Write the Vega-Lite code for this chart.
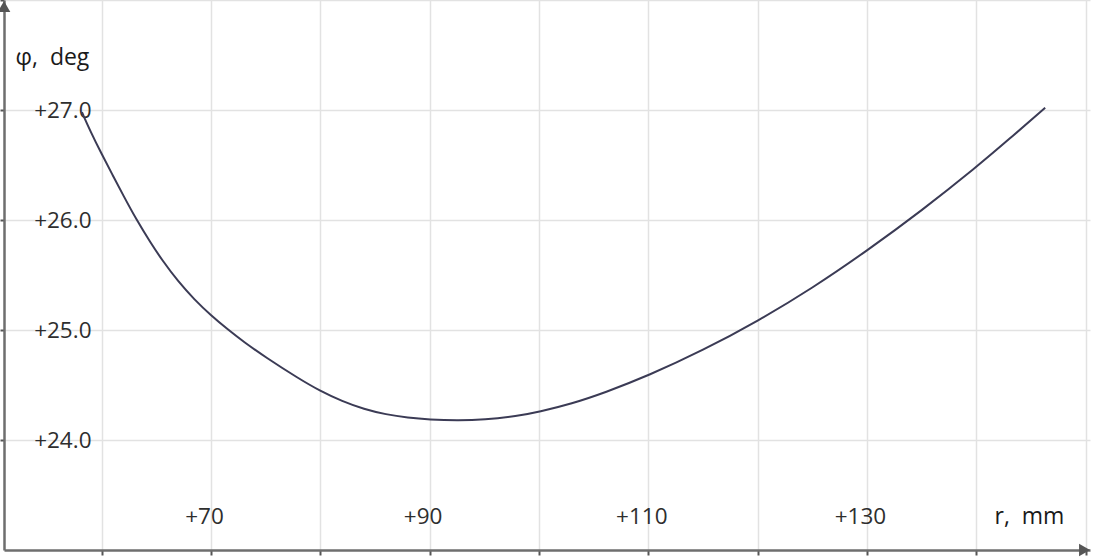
{
  "$schema": "https://vega.github.io/schema/vega-lite/v6.json",
  "width": 1086,
  "height": 550,
  "autosize": {"type": "none"},
  "padding": {"left": 4, "top": 0, "right": 4, "bottom": 7},
  "background": "white",
  "config": {
    "view": {"stroke": null},
    "font": "Open Sans"
  },
  "datasets": {
    "curve": [
      {"r": 58.2, "phi": 26.98},
      {"r": 59.0, "phi": 26.8},
      {"r": 60.0, "phi": 26.6},
      {"r": 61.0, "phi": 26.41},
      {"r": 62.0, "phi": 26.22},
      {"r": 63.2, "phi": 26.0},
      {"r": 64.5, "phi": 25.79},
      {"r": 65.5, "phi": 25.64},
      {"r": 67.0, "phi": 25.44},
      {"r": 68.5, "phi": 25.275},
      {"r": 70.0, "phi": 25.133},
      {"r": 71.6, "phi": 25.0},
      {"r": 73.0, "phi": 24.892},
      {"r": 75.0, "phi": 24.752},
      {"r": 78.0, "phi": 24.56},
      {"r": 80.0, "phi": 24.445},
      {"r": 82.0, "phi": 24.352},
      {"r": 84.0, "phi": 24.28},
      {"r": 86.0, "phi": 24.232},
      {"r": 88.0, "phi": 24.203},
      {"r": 90.0, "phi": 24.186},
      {"r": 92.5, "phi": 24.177},
      {"r": 95.0, "phi": 24.184},
      {"r": 98.0, "phi": 24.217},
      {"r": 100.0, "phi": 24.256},
      {"r": 103.0, "phi": 24.33},
      {"r": 106.0, "phi": 24.43},
      {"r": 110.0, "phi": 24.585},
      {"r": 115.0, "phi": 24.815},
      {"r": 120.0, "phi": 25.08},
      {"r": 125.0, "phi": 25.38},
      {"r": 130.0, "phi": 25.72},
      {"r": 135.0, "phi": 26.085},
      {"r": 140.0, "phi": 26.48},
      {"r": 143.0, "phi": 26.735},
      {"r": 146.3, "phi": 27.02}
    ]
  },
  "layer": [
    {
      "data": {"name": "curve"},
      "mark": {"type": "line", "color": "#3b3b55", "strokeWidth": 2, "interpolate": "basis"},
      "encoding": {
        "x": {
          "field": "r",
          "type": "quantitative",
          "scale": {"domain": [51.07, 150.4], "nice": false, "zero": false},
          "axis": {
            "values": [60, 70, 80, 90, 100, 110, 120, 130, 140, 150],
            "grid": true,
            "gridColor": "#e2e2e2",
            "gridWidth": 1.5,
            "domain": true,
            "domainColor": "#6e6e6e",
            "domainWidth": 2.5,
            "ticks": true,
            "tickColor": "#555555",
            "tickSize": 5,
            "tickWidth": 2,
            "labelExpr": "(datum.value % 20 == 10 && datum.value >= 70 && datum.value <= 130) ? '+' + datum.value : ''",
            "labelBaseline": "middle",
            "labelAlign": "center",
            "labelOffset": -7,
            "labelPadding": -39,
            "labelFontSize": 22.5,
            "labelFont": "Open Sans",
            "labelColor": "#2e2e2e",
            "labelFlush": false,
            "labelOverlap": false,
            "title": "r,\u00a0\u00a0mm",
            "titleFont": "Open Sans",
            "titleFontSize": 23,
            "titleFontWeight": "normal",
            "titleColor": "#1a1a1a",
            "titleAlign": "left",
            "titleBaseline": "alphabetic",
            "titleAngle": 0,
            "titleX": 990,
            "titleY": -27
          }
        },
        "y": {
          "field": "phi",
          "type": "quantitative",
          "scale": {"domain": [23, 28], "nice": false, "zero": false},
          "axis": {
            "values": [24, 25, 26, 27, 28],
            "grid": true,
            "gridColor": "#e2e2e2",
            "gridWidth": 1.5,
            "domain": true,
            "domainColor": "#6e6e6e",
            "domainWidth": 2.5,
            "ticks": true,
            "tickColor": "#555555",
            "tickSize": 4,
            "tickWidth": 2,
            "labelExpr": "datum.value <= 27 ? '+' + format(datum.value, '.1f') : ''",
            "labelAlign": "right",
            "labelBaseline": "middle",
            "labelPadding": -91,
            "labelFontSize": 22.5,
            "labelFont": "Open Sans",
            "labelColor": "#2e2e2e",
            "labelFlush": false,
            "labelOverlap": false,
            "title": "φ,\u00a0\u00a0deg",
            "titleFont": "Open Sans",
            "titleFontSize": 23,
            "titleFontWeight": "normal",
            "titleColor": "#1a1a1a",
            "titleAlign": "left",
            "titleBaseline": "alphabetic",
            "titleAngle": 0,
            "titleX": 11,
            "titleY": 64
          }
        }
      }
    },
    {
      "data": {"values": [{"r": 51.07, "phi": 27.94}]},
      "mark": {"type": "point", "shape": "triangle-up", "filled": true, "color": "#555555", "size": 160, "opacity": 1},
      "encoding": {
        "x": {"field": "r", "type": "quantitative"},
        "y": {"field": "phi", "type": "quantitative"}
      }
    },
    {
      "data": {"values": [{"r": 149.9, "phi": 23}]},
      "mark": {"type": "point", "shape": "triangle-right", "filled": true, "color": "#555555", "size": 160, "opacity": 1},
      "encoding": {
        "x": {"field": "r", "type": "quantitative"},
        "y": {"field": "phi", "type": "quantitative"}
      }
    }
  ]
}
